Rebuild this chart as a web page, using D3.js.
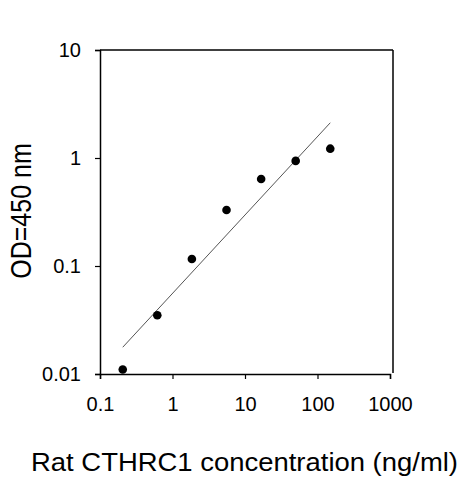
<!DOCTYPE html>
<html><head><meta charset="utf-8">
<script src="https://cdn.jsdelivr.net/npm/d3@7/dist/d3.min.js"></script>
<style>body{margin:0;background:#fff}svg{display:block}text{font-family:"Liberation Sans",Arial,sans-serif;fill:#000}</style>
</head><body>
<svg id="c" width="463" height="480"></svg>
<script>
const concentrations = [0.206, 0.617, 1.85, 5.56, 16.7, 50, 150];
const odValues = [0.011, 0.035, 0.116, 0.33, 0.64, 0.94, 1.22];
const fitX = [0.206, 150];
const fitY = [0.0177, 2.12];
const xTicks = [0.1, 1, 10, 100, 1000];
const yTicks = [0.01, 0.1, 1, 10];
const xTitle = "Rat CTHRC1 concentration (ng/ml)";
const yTitle = "OD=450 nm";

const svg = d3.select("#c");
const x = d3.scaleLog().domain([0.1, 1000]).range([100, 390]);
const y = d3.scaleLog().domain([0.01, 10]).range([374, 50]);
const fmt = d => String(d);

// frame top and right
svg.append("line").attr("x1",100).attr("x2",393).attr("y1",y(10)).attr("y2",y(10)).attr("stroke","#000").attr("stroke-width",1.5);
svg.append("line").attr("x1",393).attr("x2",393).attr("y1",y(10)).attr("y2",373).attr("stroke","#000").attr("stroke-width",1.5);

const xa = svg.append("g").attr("transform","translate(0,374)")
  .call(d3.axisBottom(x).tickValues(xTicks).tickFormat(fmt).tickSizeOuter(0).tickSize(5).tickPadding(18));
const ya = svg.append("g").attr("transform","translate(100,0)")
  .call(d3.axisLeft(y).tickValues(yTicks).tickFormat(fmt).tickSizeOuter(0).tickSize(5).tickPadding(14));
[xa, ya].forEach(g => {
  g.select(".domain").attr("stroke","#000").attr("stroke-width",1.5);
  g.selectAll(".tick line").attr("stroke","#000").attr("stroke-width",1.2);
  g.selectAll(".tick text").attr("font-size",20).attr("font-family","Liberation Sans, Arial, sans-serif").attr("fill","#000");
});

// fit line
svg.append("line")
  .attr("x1", x(fitX[0])).attr("y1", y(fitY[0]))
  .attr("x2", x(fitX[1])).attr("y2", y(fitY[1]))
  .attr("stroke","#555").attr("stroke-width",1);

// points
svg.selectAll("circle.pt").data(concentrations).enter().append("circle")
  .attr("class","pt")
  .attr("cx", d => x(d))
  .attr("cy", (d,i) => y(odValues[i]))
  .attr("r", 4.3).attr("fill","#000");

svg.append("text").attr("x", 31).attr("y", 471).attr("font-size", 25)
  .attr("textLength", 427).attr("lengthAdjust","spacingAndGlyphs").text(xTitle);

svg.append("text").attr("transform","translate(31,211) rotate(-90) scale(1,1.15)")
  .attr("text-anchor","middle").attr("font-size",25).text(yTitle);
</script>
</body></html>
